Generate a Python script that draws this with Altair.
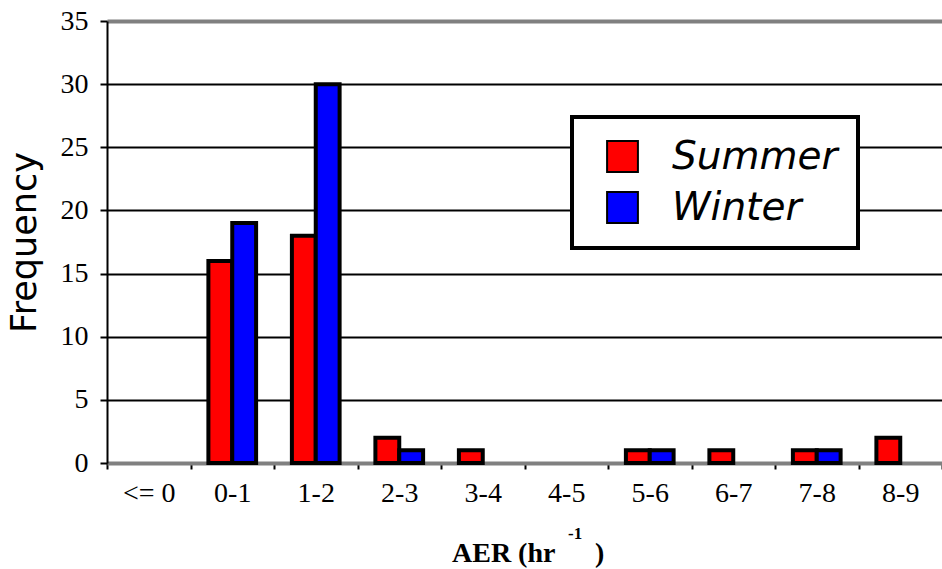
import altair as alt
import pandas as pd

categories = ["<= 0", "0-1", "1-2", "2-3", "3-4", "4-5", "5-6", "6-7", "7-8", "8-9"]
summer = [0, 16, 18, 2, 1, 0, 1, 1, 1, 2]
winter = [0, 19, 30, 1, 0, 0, 1, 0, 1, 0]
seasons = ["Summer", "Winter"]
colors = ["#FF0000", "#0000FF"]
y_ticks = [0, 5, 10, 15, 20, 25, 30, 35]

rows = []
for c, s, w in zip(categories, summer, winter):
    rows.append({"cat": c, "season": "Summer", "freq": s})
    rows.append({"cat": c, "season": "Winter", "freq": w})
df = pd.DataFrame(rows)

serif = "Liberation Serif"
sans = "DejaVu Sans"

bars = alt.Chart(df).transform_filter("datum.freq > 0").mark_bar(
    stroke="black", strokeWidth=4, strokeJoin="miter"
).encode(
    x=alt.X(
        "cat:N", sort=categories,
        scale=alt.Scale(domain=categories, paddingInner=0, paddingOuter=0),
        axis=alt.Axis(
            title=None, labelFont=serif, labelFontSize=28, labelColor="black",
            labelAngle=0, tickBand="extent", ticks=True, tickColor="black",
            tickSize=6, tickWidth=2, domainColor="#808080", domainWidth=4,
            labelPadding=10, grid=False,
        ),
    ),
    xOffset=alt.XOffset(
        "season:N", scale=alt.Scale(domain=seasons, paddingOuter=0.75, paddingInner=0)
    ),
    y=alt.Y(
        "freq:Q",
        scale=alt.Scale(domain=[0, 35], nice=False),
        axis=alt.Axis(
            values=y_ticks, title="Frequency", titleFont=sans, titleFontSize=35,
            titleFontWeight="normal", titleColor="black", titlePadding=18,
            labelFont=serif, labelFontSize=28, labelColor="black", labelPadding=12,
            domainColor="black", domainWidth=2, tickColor="black", tickSize=7,
            tickWidth=2, grid=True,
            gridColor={"condition": {"test": "datum.value === 35", "value": "#808080"}, "value": "black"},
            gridWidth={"condition": {"test": "datum.value === 35", "value": 4}, "value": 2},
        ),
    ),
    color=alt.Color(
        "season:N",
        scale=alt.Scale(domain=seasons, range=colors),
        legend=alt.Legend(
            title=None, orient="none", legendX=465, legendY=96,
            strokeColor="black", fillColor="white", padding=20,
            symbolType="square", symbolSize=950, symbolStrokeColor="black",
            symbolStrokeWidth=2, symbolOffset=11, labelOffset=30,
            labelFont=sans, labelFontStyle="italic", labelFontSize=39,
            labelColor="black", labelLimit=400, rowPadding=11,
        ),
    ),
)

t1 = alt.Chart(pd.DataFrame({"t": ["AER (hr"]})).mark_text(
    font=serif, fontSize=28, fontWeight="bold", align="left", baseline="alphabetic", color="black"
).encode(text="t:N", x=alt.value(345), y=alt.value(541))

t2 = alt.Chart(pd.DataFrame({"t": ["-1"]})).mark_text(
    font=serif, fontSize=17, fontWeight="bold", align="left", baseline="alphabetic", color="black"
).encode(text="t:N", x=alt.value(461), y=alt.value(518))

t3 = alt.Chart(pd.DataFrame({"t": [")"]})).mark_text(
    font=serif, fontSize=28, fontWeight="bold", align="left", baseline="alphabetic", color="black"
).encode(text="t:N", x=alt.value(488), y=alt.value(541))

chart = alt.layer(bars, t1, t2, t3).properties(
    width=835, height=442,
    autosize=alt.AutoSizeParams(type="none"),
    padding={"left": 107, "top": 21, "right": 0, "bottom": 106},
    background="white",
).configure_view(stroke=None).configure_legend(strokeWidth=4)

chart.save("out.html", embed_options={"renderer": "svg", "actions": False})
